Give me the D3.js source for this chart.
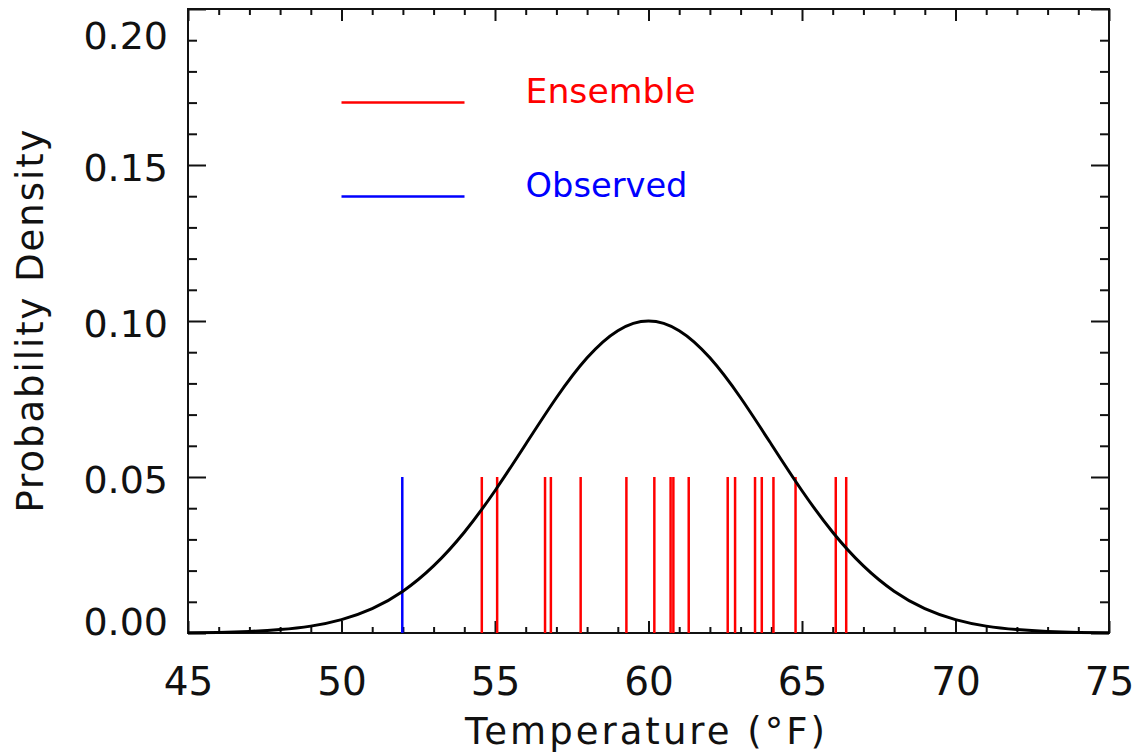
<!DOCTYPE html>
<html>
<head>
<meta charset="utf-8">
<script src="https://cdn.jsdelivr.net/npm/d3@7"></script>
<style>
    body { margin: 0; background: #fff; }
    svg text { font-family: "DejaVu Sans", sans-serif; }
</style>
</head>
<body>
<div id="wrapper"></div>
<script>
// Fitted density curve, read at each degree
const curveTemps = d3.range(45, 76);
const curveDensity = [
    0.0001, 0.0002, 0.0005, 0.0011, 0.0022, 0.0043, 0.0078, 0.0134, 0.0215, 0.0323,
    0.0456, 0.0605, 0.0754, 0.0882, 0.0969, 0.1000, 0.0969, 0.0882, 0.0754, 0.0605,
    0.0456, 0.0323, 0.0215, 0.0134, 0.0078, 0.0043, 0.0022, 0.0011, 0.0005, 0.0002,
    0.0001
];

// Ensemble members and observation (temperature, °F)
const ensembleTemps = [
    54.57, 55.07, 56.63, 56.82, 57.79, 59.28, 60.19, 60.72, 60.81, 61.31,
    62.58, 62.82, 63.47, 63.69, 64.07, 64.79, 66.10, 66.44
];
const observedTemps = [51.98];
const markHeight = 0.05;

const xTicks = [45, 50, 55, 60, 65, 70, 75];
const yTicks = [0.00, 0.05, 0.10, 0.15, 0.20];

const legendItems = [
    { label: "Ensemble", color: "#ff0000" },
    { label: "Observed", color: "#0000ff" }
];

function drawChart() {
    let dimensions = {
        width: 1136,
        height: 756,
        margin: { top: 9, right: 27, bottom: 123, left: 188 },
    };
    dimensions.boundedWidth = dimensions.width - dimensions.margin.left - dimensions.margin.right;
    dimensions.boundedHeight = dimensions.height - dimensions.margin.top - dimensions.margin.bottom;

    const wrapper = d3.select("#wrapper")
        .append("svg")
        .attr("width", dimensions.width)
        .attr("height", dimensions.height);

    wrapper.append("rect")
        .attr("width", dimensions.width)
        .attr("height", dimensions.height)
        .attr("fill", "#fff");

    const bounds = wrapper.append("g")
        .attr("transform", `translate(${dimensions.margin.left}, ${dimensions.margin.top})`);

    const xScale = d3.scaleLinear()
        .domain([45, 75])
        .range([0, dimensions.boundedWidth]);

    const yScale = d3.scaleLinear()
        .domain([0, 0.2])
        .range([dimensions.boundedHeight, 0]);

    // ticks on all four sides
    const xMinor = d3.range(45, 76).filter(v => v % 5 !== 0);
    const yMinor = d3.range(0, 21).filter(v => v % 5 !== 0).map(v => v / 100);

    const tickStyle = g => g.call(g => g.select(".domain").remove())
        .selectAll("line").attr("stroke", "#111").attr("stroke-width", 2);

    bounds.append("g")
        .attr("transform", `translate(0, ${dimensions.boundedHeight})`)
        .call(d3.axisTop(xScale).tickValues(xMinor).tickSize(6).tickFormat(""))
        .call(tickStyle);
    bounds.append("g")
        .attr("transform", `translate(0, ${dimensions.boundedHeight})`)
        .call(d3.axisTop(xScale).tickValues(xTicks).tickSize(12).tickFormat(""))
        .call(tickStyle);
    bounds.append("g")
        .call(d3.axisBottom(xScale).tickValues(xMinor).tickSize(6).tickFormat(""))
        .call(tickStyle);
    bounds.append("g")
        .call(d3.axisBottom(xScale).tickValues(xTicks).tickSize(12).tickFormat(""))
        .call(tickStyle);

    bounds.append("g")
        .call(d3.axisRight(yScale).tickValues(yMinor).tickSize(9).tickFormat(""))
        .call(tickStyle);
    bounds.append("g")
        .call(d3.axisRight(yScale).tickValues(yTicks).tickSize(18).tickFormat(""))
        .call(tickStyle);
    bounds.append("g")
        .attr("transform", `translate(${dimensions.boundedWidth}, 0)`)
        .call(d3.axisLeft(yScale).tickValues(yMinor).tickSize(9).tickFormat(""))
        .call(tickStyle);
    bounds.append("g")
        .attr("transform", `translate(${dimensions.boundedWidth}, 0)`)
        .call(d3.axisLeft(yScale).tickValues(yTicks).tickSize(18).tickFormat(""))
        .call(tickStyle);

    // tick labels
    const xAxis = bounds.append("g")
        .attr("transform", `translate(0, ${dimensions.boundedHeight})`)
        .call(d3.axisBottom(xScale).tickValues(xTicks).tickSize(0).tickFormat(d3.format("d")));
    xAxis.select(".domain").remove();
    xAxis.selectAll("text")
        .attr("y", 62)
        .attr("dy", 0)
        .attr("fill", "#111")
        .style("font-size", "39px");

    const yAxis = bounds.append("g")
        .call(d3.axisLeft(yScale).tickValues(yTicks).tickSize(0).tickFormat(d3.format(".2f")));
    yAxis.select(".domain").remove();
    yAxis.selectAll("text")
        .attr("x", -20)
        .attr("dy", d => d === 0.2 ? "1.05em" : d === 0 ? "0.05em" : "0.42em")
        .attr("fill", "#111")
        .style("font-size", "38px");

    // frame
    bounds.append("rect")
        .attr("width", dimensions.boundedWidth)
        .attr("height", dimensions.boundedHeight)
        .attr("fill", "none")
        .attr("stroke", "#111")
        .attr("stroke-width", 2);

    // observation and ensemble marks
    bounds.selectAll(".obs")
        .data(observedTemps)
        .enter().append("line")
        .attr("class", "obs")
        .attr("x1", d => xScale(d))
        .attr("x2", d => xScale(d))
        .attr("y1", yScale(0))
        .attr("y2", yScale(markHeight))
        .attr("stroke", "#0000ff")
        .attr("stroke-width", 2.5);

    bounds.selectAll(".member")
        .data(ensembleTemps)
        .enter().append("line")
        .attr("class", "member")
        .attr("x1", d => xScale(d))
        .attr("x2", d => xScale(d))
        .attr("y1", yScale(0))
        .attr("y2", yScale(markHeight))
        .attr("stroke", "#ff0000")
        .attr("stroke-width", 2.5);

    // density curve
    const curveData = curveTemps.map((t, i) => ({ t, p: curveDensity[i] }));
    const lineGenerator = d3.line()
        .x(d => xScale(d.t))
        .y(d => yScale(d.p))
        .curve(d3.curveNatural);

    bounds.append("path")
        .attr("d", lineGenerator(curveData))
        .attr("fill", "none")
        .attr("stroke", "#000")
        .attr("stroke-width", 3);

    // legend
    const legend = bounds.append("g")
        .attr("transform", `translate(${xScale(50)}, ${yScale(0.1700)})`);

    const items = legend.selectAll(".legend-item")
        .data(legendItems)
        .enter().append("g")
        .attr("class", "legend-item")
        .attr("transform", (d, i) => `translate(0, ${i * 94})`);

    items.append("line")
        .attr("x1", 0)
        .attr("x2", 123)
        .attr("stroke", d => d.color)
        .attr("stroke-width", 2.5);

    items.append("text")
        .attr("x", 184)
        .attr("y", 0)
        .attr("fill", d => d.color)
        .attr("textLength", (d, i) => i === 0 ? 170 : 162)
        .attr("lengthAdjust", "spacingAndGlyphs")
        .style("font-size", "33px")
        .text(d => d.label);

    // axis titles
    wrapper.append("text")
        .attr("x", 645)
        .attr("y", 744)
        .attr("text-anchor", "middle")
        .attr("fill", "#111")
        .attr("textLength", 360)
        .attr("lengthAdjust", "spacing")
        .style("font-size", "37px")
        .text("Temperature (°F)");

    wrapper.append("text")
        .attr("transform", "translate(43, 321) rotate(-90)")
        .attr("text-anchor", "middle")
        .attr("fill", "#111")
        .attr("textLength", 383)
        .attr("lengthAdjust", "spacing")
        .style("font-size", "37px")
        .text("Probability Density");
}

drawChart();
</script>
</body>
</html>
